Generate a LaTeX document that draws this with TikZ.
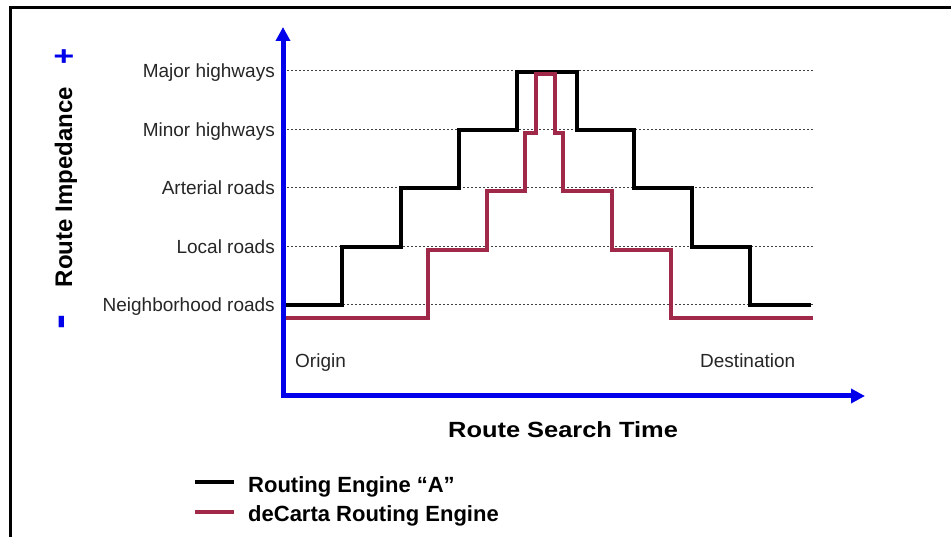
\documentclass[tikz,border=0pt]{standalone}
\usepackage{fontspec}
\setmainfont{Liberation Sans}
\usetikzlibrary{arrows.meta}
\definecolor{axisblue}{RGB}{0,0,235}
\definecolor{decarta}{RGB}{160,40,72}
\begin{document}
\begin{tikzpicture}[x=1pt,y=-1pt,
  lvl/.style={anchor=base east, inner sep=0pt, text=black!85, font=\fontsize{19}{19}\selectfont},
  endlbl/.style={anchor=base west, inner sep=0pt, text=black!85, font=\fontsize{19}{19}\selectfont},
  gridline/.style={dash pattern=on 2pt off 2pt, line width=1pt, black!75},
  engA/.style={line width=4pt, black, line join=miter},
  engB/.style={line width=4pt, decarta, line join=miter},
  axisline/.style={line width=5pt, axisblue, line join=miter,
    {Triangle[length=14pt,width=14pt]}-{Triangle[length=14pt,width=14pt]}},
  boldlbl/.style={inner sep=0pt, font=\bfseries\fontsize{22}{22}\selectfont},
  sign/.style={inner sep=0pt, text=axisblue}
]
\useasboundingbox (0,0) rectangle (951,537);
% frame
\draw[line width=3pt] (10.5,537) -- (10.5,7.5) -- (951,7.5);

% level labels and grid lines
\foreach \y/\t/\n in {71/Major highways/maj, 130/Minor highways/min, 188/Arterial roads/art, 247/Local roads/loc, 305/Neighborhood roads/nbh}{
  \node[lvl] (\n) at (275,\y+7) {\t};
  \coordinate (\n-s) at (283,\y);
  \coordinate (\n-e) at (813,\y);
  \draw[gridline] (\n-s) -- (\n-e);
}

% Routing engine A (black)
\draw[engA] (283,305) -| (342,247) -| (401,188) -| (459,130) -| (517,72)
  -| (577,130) -| (634,188) -| (692,247) -| (750,305) -- (811,305);

% deCarta (maroon)
\draw[engB] (283,318) -| (428,250) -| (487,191) -| (525,133) -| (536,74)
  -| (555,133) -| (563,191) -| (612,250) -| (671,318) -- (813,318);

% axes
\coordinate (ytip) at (283,27);
\coordinate (corner) at (283,396);
\coordinate (xtip) at (865,396);
\draw[axisline] (ytip) -- (corner) -- (xtip);

% axis labels
\node[endlbl] (origin) at (295,368) {Origin};
\node[endlbl] (dest) at (700,368) {Destination};
\node[boldlbl, anchor=base west] (xlabel) at (448,437) {\scalebox{1.155}[1]{Route Search Time}};
\node[boldlbl, font=\bfseries\fontsize{24}{24}\selectfont, rotate=90, anchor=base] (ylabel) at (72,187) {Route Impedance};
\node[sign, font=\bfseries\fontsize{36}{36}\selectfont] (plus) at (64,58) {\scalebox{1}[0.75]{+}};
\node[sign, font=\bfseries\fontsize{45}{45}\selectfont, rotate=90, anchor=base] (minus) at (73,322) {-};

% legend
\coordinate (lA1) at (195,482); \coordinate (lA2) at (234,482);
\coordinate (lB1) at (195,512); \coordinate (lB2) at (234,512);
\draw[engA] (lA1) -- (lA2);
\draw[engB] (lB1) -- (lB2);
\node[boldlbl, anchor=base west] (legA) at (248,492) {Routing Engine “A”};
\node[boldlbl, anchor=base west] (legB) at (248,521) {deCarta Routing Engine};
\end{tikzpicture}
\end{document}
